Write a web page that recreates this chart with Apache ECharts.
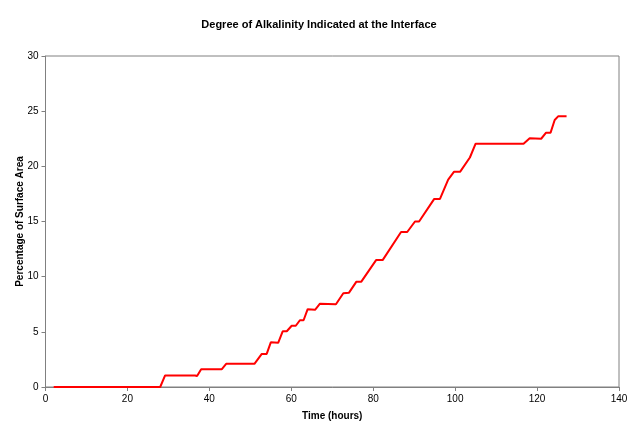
<!DOCTYPE html>
<html>
<head>
<meta charset="utf-8">
<script src="https://cdn.jsdelivr.net/npm/echarts@6/dist/echarts.min.js"></script>
<style>
html,body{margin:0;padding:0;background:#fff;}
#chart{width:638px;height:436px;}
</style>
</head>
<body>
<div id="chart"></div>
<script>
// hours since start
var hours = [2,28,29.2,36.5,37,38,43,44.1,51,52.8,54,55,56.8,57.9,58.9,60.1,61.1,62.1,63,64,65.8,67,70.9,72.7,74.1,75.9,77.1,80.7,82.3,86.8,88.3,90.2,91.2,94.9,96.3,98.3,99.7,101.2,103.6,105,116.7,118.2,121,122.2,123.3,124.3,125.2,127.2];
// percentage of surface area
var pct = [0,0,1.05,1.05,1.0,1.6,1.6,2.1,2.1,3.0,3.0,4.05,4.0,5.05,5.05,5.55,5.55,6.05,6.05,7.05,7.0,7.55,7.5,8.5,8.55,9.55,9.55,11.5,11.5,14.05,14.05,15.0,15.0,17.05,17.05,18.8,19.5,19.5,20.8,22.05,22.05,22.55,22.5,23.05,23.05,24.2,24.55,24.55];

var pts = [];
for (var i = 0; i < hours.length; i++) {
	pts.push([hours[i], pct[i]]);
}

var myChart = echarts.init(document.getElementById('chart'));
var option = {
	animation: false,
	backgroundColor: '#fff',
	title: {
		text: 'Degree of Alkalinity Indicated at the Interface',
		left: 'center',
		top: 14,
		textStyle: {fontFamily: 'Arial', fontSize: 11, fontWeight: 'bold', color: '#000'}
	},
	grid: {left: 45.5, right: 19, top: 56, bottom: 49, show: true, borderColor: '#808080', borderWidth: 1},
	xAxis: {
		type: 'value',
		min: 0, max: 140, interval: 20,
		name: 'Time (hours)',
		nameLocation: 'middle',
		nameGap: 24,
		nameMoveOverlap: false,
		nameTextStyle: {fontFamily: 'Arial', fontSize: 10, fontWeight: 'bold', color: '#000'},
		axisLine: {lineStyle: {color: '#808080'}},
		axisTick: {length: 4, lineStyle: {color: '#808080'}},
		axisLabel: {fontFamily: 'Arial', fontSize: 10, color: '#000', margin: 7},
		splitLine: {show: false}
	},
	yAxis: {
		type: 'value',
		min: 0, max: 30, interval: 5,
		name: 'Percentage of Surface Area',
		nameLocation: 'middle',
		nameGap: 20,
		nameMoveOverlap: false,
		nameTextStyle: {fontFamily: 'Arial', fontSize: 10, fontWeight: 'bold', color: '#000'},
		axisLine: {show: true, lineStyle: {color: '#808080'}},
		axisTick: {show: true, length: 4, lineStyle: {color: '#808080'}},
		axisLabel: {fontFamily: 'Arial', fontSize: 10, color: '#000', margin: 7},
		splitLine: {show: false}
	},
	series: [{
		type: 'line',
		data: pts,
		showSymbol: false,
		lineStyle: {color: '#ff0000', width: 2},
		itemStyle: {color: '#ff0000'}
	}]
};
myChart.setOption(option);
</script>
</body>
</html>
